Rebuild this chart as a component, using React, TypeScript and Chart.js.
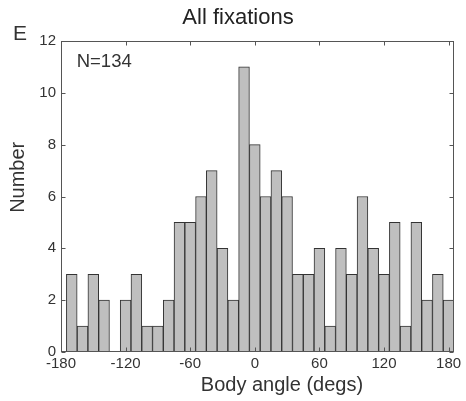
import React, { useEffect, useRef } from "react";
import { Chart, registerables } from "chart.js";

Chart.register(...registerables);

// Histogram bin centres (degrees) and counts
const BIN_CENTERS = [
  -170, -160, -150, -140, -130, -120, -110, -100, -90, -80, -70, -60,
  -50, -40, -30, -20, -10, 0, 10, 20, 30, 40, 50, 60,
  70, 80, 90, 100, 110, 120, 130, 140, 150, 160, 170, 180,
];
const COUNTS = [
  3, 1, 3, 2, 0, 2, 3, 1, 1, 2, 5, 5,
  6, 7, 4, 2, 11, 8, 6, 7, 6, 3, 3, 4,
  1, 4, 3, 6, 4, 3, 5, 1, 5, 2, 3, 2,
];
const X_TICKS = [-180, -120, -60, 0, 60, 120, 180];
const Y_TICKS = [0, 2, 4, 6, 8, 10, 12];

const TITLE = "All fixations";
const X_LABEL = "Body angle (degs)";
const Y_LABEL = "Number";
const PANEL = "E";
const N_TEXT = "N=134";

const FONT = "'Liberation Sans', Arial, Helvetica, sans-serif";
const TEXT = "#333333";
const AXIS = "#555555";

const decor = {
  id: "decor",
  afterDraw(chart: any) {
    const { ctx, chartArea: a, scales } = chart;
    const x = scales.x;
    const y = scales.y;
    ctx.save();
    // frame
    ctx.strokeStyle = AXIS;
    ctx.lineWidth = 1;
    const L = Math.round(a.left) + 0.5;
    const R = Math.round(a.right) - 0.5;
    const T = Math.round(a.top) + 0.5;
    const B = Math.round(a.bottom) - 0.5;
    ctx.strokeRect(L, T, R - L, B - T);
    // inward ticks
    const tl = 4;
    ctx.beginPath();
    X_TICKS.forEach((v) => {
      const p = Math.round(x.getPixelForValue(v)) + 0.5;
      ctx.moveTo(p, B);
      ctx.lineTo(p, B - tl);
      ctx.moveTo(p, T);
      ctx.lineTo(p, T + tl);
    });
    Y_TICKS.forEach((v) => {
      const p = Math.round(y.getPixelForValue(v)) + 0.5;
      ctx.moveTo(L, p);
      ctx.lineTo(L + tl, p);
      ctx.moveTo(R, p);
      ctx.lineTo(R - tl, p);
    });
    ctx.stroke();

    ctx.fillStyle = TEXT;
    // panel letter
    ctx.font = `21px ${FONT}`;
    ctx.textAlign = "left";
    ctx.textBaseline = "alphabetic";
    ctx.fillText(PANEL, 13, 40);
    // N text
    ctx.font = `18.5px ${FONT}`;
    ctx.fillText(N_TEXT, a.left + 15.7, a.top + 26);
    // x label
    ctx.font = `20px ${FONT}`;
    ctx.textAlign = "center";
    ctx.textBaseline = "middle";
    ctx.fillText(X_LABEL, a.left + (a.right - a.left) * 0.5623, a.bottom + 33);
    // y label
    ctx.translate(18.3, a.top + 136.3);
    ctx.rotate(-Math.PI / 2);
    ctx.fillText(Y_LABEL, 0, 0);
    ctx.restore();
  },
};

export default function App() {
  const ref = useRef<HTMLCanvasElement | null>(null);

  useEffect(() => {
    if (!ref.current) return;
    const chart = new Chart(ref.current, {
      type: "bar",
      data: {
        datasets: [
          {
            data: BIN_CENTERS.map((c, i) => ({ x: c, y: COUNTS[i] })),
            backgroundColor: "#bfbfbf",
            borderColor: "#333333",
            borderWidth: 1,
            barPercentage: 1,
            categoryPercentage: 1,
          },
        ],
      },
      options: {
        responsive: false,
        devicePixelRatio: 1,
        animation: false,
        layout: { padding: { left: 10, right: 0, top: 0, bottom: 0 } },
        plugins: {
          legend: { display: false },
          tooltip: { enabled: false },
          title: {
            display: true,
            text: TITLE,
            color: "#222222",
            font: { family: FONT, size: 22, weight: "normal" },
            padding: { top: 5, bottom: 9.6 },
          },
        },
        scales: {
          x: {
            type: "linear",
            min: -180,
            max: 185,
            offset: false,
            grid: { display: false, drawTicks: false },
            border: { display: false },
            afterBuildTicks: (s: any) => {
              s.ticks = X_TICKS.map((v) => ({ value: v }));
            },
            afterFit: (s: any) => {
              s.height = 49;
            },
            ticks: {
              color: TEXT,
              padding: 3,
              maxRotation: 0,
              autoSkip: false,
              font: { family: FONT, size: 15 },
            },
          },
          y: {
            type: "linear",
            min: 0,
            max: 12,
            grid: { display: false, drawTicks: false },
            border: { display: false },
            afterBuildTicks: (s: any) => {
              s.ticks = Y_TICKS.map((v) => ({ value: v }));
            },
            afterFit: (s: any) => {
              s.width = 51;
            },
            ticks: {
              color: TEXT,
              padding: 5,
              font: { family: FONT, size: 15 },
            },
          },
          yR: {
            type: "linear",
            position: "right",
            min: 0,
            max: 12,
            grid: { display: false, drawTicks: false },
            border: { display: false },
            ticks: { display: false },
            afterFit: (s: any) => {
              s.width = 12;
            },
          },
        },
      },
      plugins: [decor],
    } as any);
    return () => chart.destroy();
  }, []);

  return (
    <div style={{ position: "fixed", left: 0, top: 0, width: 466, height: 401, background: "#fff" }}>
      <canvas ref={ref} width={466} height={401} style={{ display: "block" }} />
    </div>
  );
}
